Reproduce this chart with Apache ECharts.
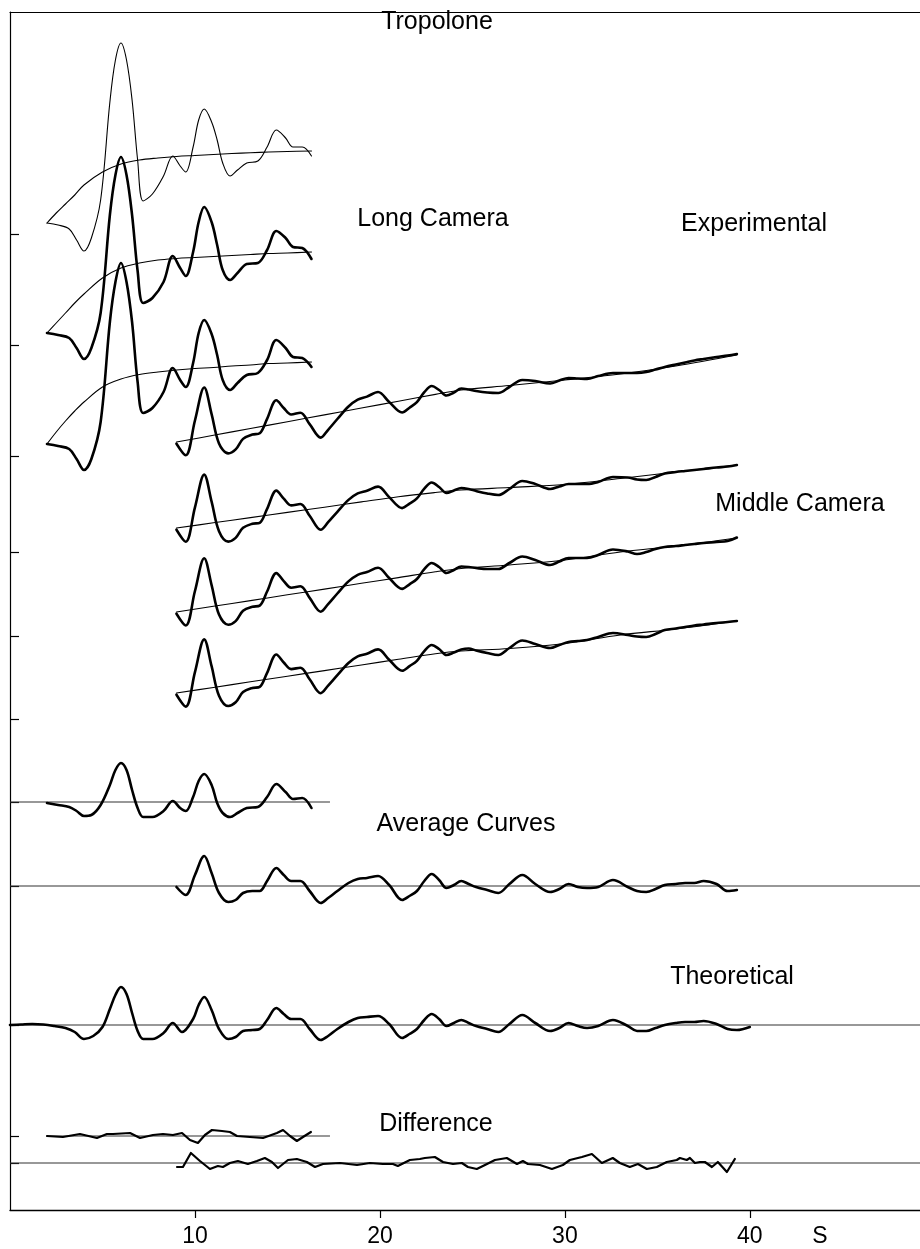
<!DOCTYPE html>
<html>
<head>
<meta charset="utf-8">
<script src="https://cdn.jsdelivr.net/npm/echarts@6/dist/echarts.min.js"></script>
<style>
  html, body { margin: 0; padding: 0; background: #fff; }
  #chart { width: 920px; height: 1249px; }
</style>
</head>
<body>
<div id="chart"></div>
<script>
// ---- scattering variable s (x) grids ----
const shortS = [2.0, 2.6, 3.2, 3.6, 4.0, 4.4, 4.9, 5.4, 5.7, 6.0, 6.3, 6.6, 6.9, 7.2, 7.7, 8.3, 8.8, 9.2, 9.5, 9.9,
                10.2, 10.5, 10.9, 11.2, 11.5, 11.9, 12.3, 12.8, 13.4, 13.9, 14.4, 14.9, 15.3, 15.8, 16.3];
const shortBgS = [2.0, 2.5, 3.0, 3.5, 4.0, 5.0, 6.0, 7.0, 8.0, 9.0, 10.0, 11.0, 12.0, 13.0, 14.0, 15.0, 16.3];
const longS = [9.0, 9.5, 10.0, 10.5, 10.9, 11.3, 11.8, 12.2, 12.6, 13.1,
               13.5, 13.9, 14.4, 14.8, 15.2, 15.7, 16.2, 16.8, 17.2, 17.7,
               18.3, 18.8, 19.3, 19.9, 20.5, 21.2, 21.6, 22.0, 22.4, 22.8,
               23.2, 23.6, 24.0, 24.4, 24.8, 25.2, 25.8, 26.4, 27.0, 27.7,
               28.4, 29.2, 29.7, 30.2, 30.7, 31.2, 31.8, 32.6, 33.4, 33.9,
               34.4, 34.9, 35.4, 36.0, 36.5, 37.0, 37.5, 38.2, 38.8, 39.3];
const longBgS = [9.0, 11.0, 13.0, 15.0, 17.0, 19.0, 21.0, 23.0, 24.4, 27.0, 30.0, 33.0, 36.0, 39.3];
const theoS = [0.0, 0.6, 1.2, 1.8, 2.4, 3.0, 3.5, 4.0, 4.5, 5.0, 5.4, 5.7, 6.0, 6.3, 6.6, 6.9, 7.2, 7.7, 8.3, 8.8,
               9.3, 9.9, 10.2, 10.5, 10.9, 11.3, 11.8, 12.2, 12.6, 13.1, 13.5, 13.9, 14.4, 14.8, 15.2, 15.7, 16.2,
               16.8, 17.2, 17.7, 18.3, 18.8, 19.3, 19.9, 20.5, 21.2, 21.6, 22.0, 22.4, 22.8, 23.2, 23.6, 24.0,
               24.4, 24.8, 25.2, 25.8, 26.4, 27.0, 27.7, 28.4, 29.2, 29.7, 30.2, 30.7, 31.2, 31.8, 32.6, 33.4,
               33.9, 34.4, 34.9, 35.4, 36.0, 36.5, 37.0, 37.5, 38.2, 38.8, 39.3, 40.0];
const diffShortS = [2.0, 2.86, 3.78, 4.70, 5.24, 5.57, 6.49, 7.03, 7.73, 8.27, 8.81, 9.30, 9.73, 10.16, 10.54,
                    10.92, 11.46, 11.89, 12.27, 12.97, 13.68, 14.43, 14.76, 15.14, 15.51, 15.84, 16.27];
const diffLongS = [9.03, 9.35, 9.78, 10.27, 10.81, 11.24, 11.51, 11.89, 12.32, 12.86, 13.35, 13.78, 14.16, 14.49,
                   15.03, 15.51, 16.05, 16.49, 16.92, 17.84, 18.76, 19.46, 20.16, 20.70, 20.97, 21.62, 22.16,
                   22.43, 22.97, 23.41, 23.95, 24.43, 24.76, 25.24, 25.68, 26.22, 26.86, 27.41, 27.73, 28.00,
                   28.65, 29.30, 29.89, 30.27, 30.92, 31.46, 32.00, 32.59, 32.97, 33.51, 33.95, 34.43, 34.97,
                   35.51, 36.05, 36.22, 36.59, 36.76, 37.03, 37.30, 37.57, 37.95, 38.27, 38.76, 39.19];

// ---- experimental total intensities, long camera (tropolone + two runs) ----
const tropolone = [1.1, 0.9, 0.5, -0.6, -1.7, -0.4, 3.4, 13.2, 17.4, 19.1, 17.4, 13.4, 7.4, 3.3, 4.0, 5.8, 7.8, 6.8, 6.2, 8.7,
                   11.4, 12.5, 11.2, 9.4, 7.1, 5.8, 6.4, 7.1, 7.3, 8.7, 10.4, 9.6, 8.7, 8.7, 7.8];
const tropoloneBg = [1.1, 2.1, 3.0, 3.9, 4.9, 6.2, 7.0, 7.4, 7.6, 7.75, 7.85, 7.95, 8.05, 8.12, 8.2, 8.25, 8.3];
const longA = [1.2, 1.0, 0.7, -0.3, -1.4, -0.3, 3.2, 13.0, 17.0, 18.8, 17.0, 13.0, 7.4, 4.2, 4.7, 6.3, 8.9, 7.7, 6.9, 9.3,
               12.3, 13.8, 12.3, 10.0, 7.5, 6.5, 7.2, 8.1, 8.2, 9.5, 11.4, 10.7, 9.8, 9.7, 8.6];
const longABg = [1.2, 2.2, 3.2, 4.2, 5.1, 6.7, 7.7, 8.2, 8.5, 8.65, 8.75, 8.85, 8.95, 9.05, 9.15, 9.2, 9.3];
const longB = [1.2, 1.0, 0.7, -0.3, -1.4, -0.3, 3.4, 13.4, 17.4, 19.3, 17.4, 13.4, 7.4, 4.3, 4.8, 6.4, 8.8, 7.6, 6.9, 9.3,
               12.3, 13.6, 12.2, 10.1, 7.6, 6.6, 7.3, 8.1, 8.3, 9.6, 11.6, 10.8, 9.9, 9.8, 8.9];
const longBBg = [1.2, 2.4, 3.5, 4.5, 5.4, 6.9, 7.7, 8.15, 8.4, 8.6, 8.75, 8.85, 9.0, 9.1, 9.25, 9.3, 9.4];

// ---- experimental total intensities, middle camera (four runs) ----
const middle1 = [1.23, 0.07, 3.55, 6.85, 4.19, 1.26, 0.26, 0.66, 1.71, 2.14,
                 2.27, 3.71, 5.57, 4.80, 4.15, 4.32, 3.19, 1.84, 2.62, 3.70,
                 4.95, 5.64, 5.94, 6.40, 5.40, 4.35, 4.83, 5.39, 6.38, 7.00,
                 6.60, 6.05, 6.35, 6.75, 6.65, 6.50, 6.35, 6.30, 6.90, 7.60,
                 7.50, 7.25, 7.55, 7.80, 7.75, 7.70, 8.00, 8.30, 8.30, 8.30,
                 8.40, 8.65, 8.90, 9.15, 9.35, 9.55, 9.70, 9.90, 10.05, 10.20];
const middle1Bg = [1.40, 2.07, 2.75, 3.43, 4.11, 4.80, 5.48, 6.16, 6.60, 7.05, 7.60, 8.20, 9.00, 10.10];
const middle2 = [2.23, 1.03, 4.47, 7.74, 5.04, 2.08, 1.04, 1.41, 2.42, 2.82,
                 2.92, 4.32, 6.14, 5.34, 4.66, 4.80, 3.63, 2.22, 2.98, 4.02,
                 5.21, 5.86, 6.13, 6.54, 5.49, 4.39, 4.84, 5.36, 6.33, 6.95,
                 6.50, 5.90, 6.15, 6.40, 6.30, 6.10, 5.85, 5.70, 6.30, 7.10,
                 6.80, 6.30, 6.55, 6.80, 6.80, 6.80, 7.00, 7.50, 7.45, 7.25,
                 7.20, 7.50, 7.85, 8.00, 8.10, 8.20, 8.30, 8.45, 8.55, 8.70];
const middle2Bg = [2.40, 2.92, 3.44, 3.96, 4.48, 5.01, 5.53, 5.95, 6.20, 6.45, 6.75, 7.35, 8.00, 8.70];
const middle3 = [2.23, 1.05, 4.50, 7.77, 5.09, 2.14, 1.12, 1.49, 2.52, 2.92,
                 3.04, 4.45, 6.29, 5.49, 4.83, 4.97, 3.81, 2.43, 3.19, 4.25,
                 5.46, 6.12, 6.40, 6.83, 5.79, 4.71, 5.17, 5.70, 6.68, 7.30,
                 6.90, 6.30, 6.60, 6.95, 6.90, 6.80, 6.70, 6.70, 7.30, 7.95,
                 7.60, 7.10, 7.45, 7.80, 7.80, 7.80, 8.10, 8.65, 8.45, 8.20,
                 8.40, 8.70, 8.90, 9.00, 9.10, 9.20, 9.30, 9.40, 9.50, 9.85];
const middle3Bg = [2.40, 2.97, 3.54, 4.12, 4.69, 5.27, 5.84, 6.42, 6.75, 7.10, 7.60, 8.40, 9.00, 9.80];
const middle4 = [2.43, 1.24, 4.69, 7.96, 5.28, 2.33, 1.30, 1.67, 2.69, 3.10,
                 3.21, 4.62, 6.45, 5.65, 4.99, 5.13, 3.97, 2.58, 3.34, 4.39,
                 5.60, 6.26, 6.53, 6.96, 5.92, 4.83, 5.29, 5.82, 6.79, 7.40,
                 7.00, 6.40, 6.65, 6.95, 7.05, 6.85, 6.60, 6.40, 7.10, 7.85,
                 7.50, 7.10, 7.40, 7.70, 7.80, 7.90, 8.20, 8.60, 8.40, 8.25,
                 8.20, 8.50, 8.90, 9.05, 9.20, 9.35, 9.45, 9.60, 9.70, 9.80];
const middle4Bg = [2.60, 3.15, 3.72, 4.28, 4.84, 5.40, 5.97, 6.53, 6.80, 7.05, 7.55, 8.40, 9.00, 9.80];

// ---- averaged molecular intensity curves ----
const avgShort = [-0.1, -0.3, -0.5, -0.9, -1.4, -1.3, -0.3, 1.7, 3.2, 3.9, 3.2, 1.2, -0.6, -1.5, -1.5, -0.9, 0.1, -0.6, -0.9, 0.5,
                  2.1, 2.8, 1.7, -0.1, -1.1, -1.5, -1.1, -0.6, -0.5, 0.5, 1.8, 1.0, 0.3, 0.4, -0.6];
const avgLong = [-0.1, -0.9, 1.1, 3.0, 1.3, -0.7, -1.6, -1.4, -0.7, -0.5,
                 -0.5, 0.5, 1.8, 1.1, 0.5, 0.5, -0.5, -1.7, -1.2, -0.5,
                 0.3, 0.7, 0.8, 1.0, 0.1, -1.4, -1.0, -0.5, 0.5, 1.2,
                 0.6, -0.2, 0.1, 0.5, 0.2, -0.1, -0.4, -0.7, 0.2, 1.1,
                 0.2, -0.6, -0.3, 0.2, -0.1, -0.2, -0.1, 0.6, -0.1, -0.5,
                 -0.6, -0.3, 0.1, 0.2, 0.3, 0.3, 0.5, 0.2, -0.5, -0.4];

// ---- theoretical curve ----
const theoretical = [0.0, 0.05, 0.1, 0.05, -0.1, -0.3, -0.7, -1.4, -1.1, -0.2, 1.6, 3.0, 3.8, 3.1, 1.2, -0.6, -1.4, -1.4, -0.8, 0.2,
                     -0.7, 0.6, 2.0, 2.8, 1.5, -0.4, -1.4, -1.2, -0.6, -0.5, -0.4, 0.5, 1.7, 1.1, 0.6, 0.6, -0.4,
                     -1.5, -1.1, -0.4, 0.3, 0.7, 0.8, 0.9, 0.1, -1.3, -0.9, -0.4, 0.5, 1.1, 0.6, -0.1, 0.2,
                     0.5, 0.2, -0.1, -0.4, -0.7, 0.1, 1.0, 0.2, -0.6, -0.3, 0.2, -0.1, -0.3, -0.1, 0.5, -0.1,
                     -0.6, -0.6, -0.3, 0.0, 0.2, 0.3, 0.3, 0.4, 0.1, -0.4, -0.5, -0.2];

// ---- experimental minus theoretical ----
const diffShort = [0.0, -0.1, 0.2, -0.2, 0.2, 0.2, 0.3, -0.2, 0.1, 0.2, 0.1, 0.3, -0.4, -0.7, 0.1,
                   0.6, 0.5, 0.4, 0.0, -0.1, -0.2, 0.3, 0.6, 0.0, -0.5, -0.1, 0.4];
const diffLong = [-0.4, -0.4, 1.0, 0.2, -0.6, -0.3, -0.4, 0.0, 0.2, -0.1, 0.2, 0.5, 0.1, -0.5,
                  0.3, 0.4, 0.1, -0.4, -0.1, 0.0, -0.2, 0.0, -0.1, -0.1, -0.3, 0.3, 0.4,
                  0.5, 0.6, 0.1, -0.1, 0.0, -0.4, -0.6, -0.2, 0.3, 0.5, -0.1, 0.2, -0.1,
                  -0.2, -0.6, -0.2, 0.3, 0.6, 0.9, 0.0, 0.5, 0.0, -0.4, -0.1, -0.6, -0.4,
                  0.1, 0.3, 0.5, 0.3, 0.5, 0.0, 0.1, 0.1, -0.4, 0.1, -0.9, 0.4];

// ---- x-axis tick labels ----
const xTicks = [10, 20, 30, 40];
const xUnit = 'S';

// ---- layout: vertical position of each curve's baseline (axis units) ----
const base = {
  tropolone: 97.6, longA: 86.5, longB: 75.4,
  middle1: 75.4, middle2: 65.8, middle3: 57.4, middle4: 49.1,
  avgShort: 40.8, avgLong: 32.4, theo: 18.5, diffShort: 7.4, diffLong: 4.7
};
const X_MAX = 49.2, Y_MAX = 119.8;
const FONT = '"Liberation Sans", Arial, sans-serif';

function curve(s, v, offset, width, smooth) {
  return {
    type: 'line',
    data: s.map((x, i) => [x, offset + v[i]]),
    symbol: 'none',
    smooth: smooth,
    lineStyle: { color: '#000', width: width, join: 'round', cap: 'round' },
    silent: true,
    animation: false
  };
}
function baseline(x0, x1, offset) {
  return {
    type: 'line',
    data: [[x0, offset], [x1, offset]],
    symbol: 'none',
    lineStyle: { color: '#333', width: 1.2 },
    silent: true,
    animation: false,
    z: 1
  };
}

const THICK = 2.6, THIN = 1.1, SM = 0.35;
const series = [
  // long camera
  curve(shortBgS, tropoloneBg, base.tropolone, THIN, SM),
  curve(shortS, tropolone, base.tropolone, THIN, SM),
  curve(shortBgS, longABg, base.longA, THIN, SM),
  curve(shortS, longA, base.longA, THICK, SM),
  curve(shortBgS, longBBg, base.longB, THIN, SM),
  curve(shortS, longB, base.longB, THICK, SM),
  // middle camera
  curve(longBgS, middle1Bg, base.middle1, THIN, SM),
  curve(longS, middle1, base.middle1, THICK, SM),
  curve(longBgS, middle2Bg, base.middle2, THIN, SM),
  curve(longS, middle2, base.middle2, THICK, SM),
  curve(longBgS, middle3Bg, base.middle3, THIN, SM),
  curve(longS, middle3, base.middle3, THICK, SM),
  curve(longBgS, middle4Bg, base.middle4, THIN, SM),
  curve(longS, middle4, base.middle4, THICK, SM),
  // average curves
  baseline(0, 17.3, base.avgShort),
  curve(shortS, avgShort, base.avgShort, THICK, SM),
  baseline(0, X_MAX, base.avgLong),
  curve(longS, avgLong, base.avgLong, THICK, SM),
  // theoretical
  baseline(0, X_MAX, base.theo),
  curve(theoS, theoretical, base.theo, THICK, SM),
  // difference
  baseline(2.0, 17.3, base.diffShort),
  curve(diffShortS, diffShort, base.diffShort, 2.2, false),
  baseline(0, X_MAX, base.diffLong),
  curve(diffLongS, diffLong, base.diffLong, 2.2, false)
];

function label(text, x, y, size) {
  return {
    type: 'text', x: x, y: y, silent: true,
    style: { text: text, font: size + 'px ' + FONT, fill: '#000', align: 'center', verticalAlign: 'middle' }
  };
}

const chart = echarts.init(document.getElementById('chart'), null, { renderer: 'canvas' });
chart.setOption({
  animation: false,
  backgroundColor: '#fff',
  grid: { left: 10, right: 0, top: 12, bottom: 39, containLabel: false },
  xAxis: [{
    type: 'value', min: 0, max: X_MAX,
    axisLine: { show: true, lineStyle: { color: '#000', width: 1.4 } },
    axisTick: { show: true, length: 8, customValues: xTicks, lineStyle: { color: '#000', width: 1.2 } },
    axisLabel: { show: true, customValues: xTicks, margin: 15, fontSize: 23, fontFamily: FONT, color: '#000' },
    splitLine: { show: false }
  }, {
    type: 'value', position: 'top', min: 0, max: X_MAX,
    axisLine: { show: true, lineStyle: { color: '#000', width: 1.2 } },
    axisTick: { show: false }, axisLabel: { show: false }, splitLine: { show: false }
  }],
  yAxis: {
    type: 'value', min: 0, max: Y_MAX,
    axisLine: { show: true, lineStyle: { color: '#000', width: 1.2 } },
    axisTick: {
      show: true, inside: true, length: 9,
      customValues: [base.tropolone, base.longA, base.longB, base.middle2, base.middle3, base.middle4,
                     base.avgShort, base.avgLong, base.theo, base.diffShort, base.diffLong],
      lineStyle: { color: '#000', width: 1.2 }
    },
    axisLabel: { show: false },
    splitLine: { show: false }
  },
  series: series,
  graphic: [
    label('Tropolone', 437, 22, 25),
    label('Long Camera', 433, 219, 25),
    label('Experimental', 754, 224, 25),
    label('Middle Camera', 800, 504, 25),
    label('Average Curves', 466, 824, 25),
    label('Theoretical', 732, 977, 25),
    label('Difference', 436, 1124, 25),
    label(xUnit, 820, 1237, 23)
  ]
});
</script>
</body>
</html>
